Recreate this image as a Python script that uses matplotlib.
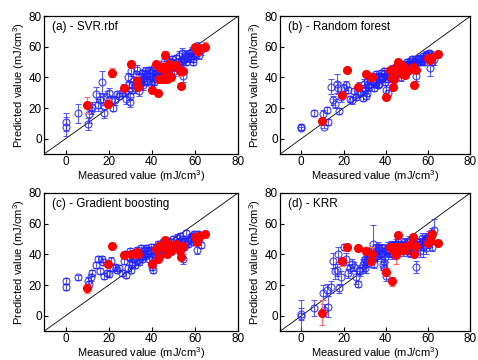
import matplotlib
matplotlib.use('Agg')
import matplotlib.pyplot as plt
import numpy as np

plt.rcParams['font.family'] = ['Liberation Sans', 'DejaVu Sans']
plt.rcParams['mathtext.fontset'] = 'custom'
plt.rcParams['mathtext.rm'] = 'Liberation Sans'

# measured values (shared by all four models)
x_train = [
    0, 0, 6, 10.5, 11, 12, 12.5, 14, 15, 16,
    17, 17.5, 18, 19, 20, 21, 22, 23, 24, 25,
    26, 27, 27.5, 28, 29, 29.5, 30, 30.5, 31, 31.5,
    32, 32.5, 33, 34, 34.5, 35, 35.5, 36, 36.5, 37,
    37.5, 38, 38.5, 39, 39.5, 40, 40.5, 41, 41.5, 42,
    42.5, 43, 43.5, 44, 44.5, 45, 45.5, 46, 46.5, 47,
    47.5, 48, 48.5, 49, 49.5, 50, 50.5, 51, 51.5, 52,
    52.5, 53, 53.5, 54, 54.5, 55, 55.5, 56, 57, 57.5,
    58, 58.5, 59, 59.5, 60, 60.5, 61, 61.5, 62, 63,
    35, 38, 41, 44, 47, 50, 53, 56, 59, 62,
    30, 33, 36, 39, 42, 45, 48, 51, 54, 57,
    31, 34, 37, 40, 43, 46, 49, 52, 55, 58,
]
x_test = [10, 19.5, 21.5, 27, 30.5, 33, 33.5, 40, 42, 43,
          43.5, 44, 45, 45.5, 46, 46.5, 47, 47.5, 48, 48.5,
          49, 51, 53, 53.5, 54.5, 60, 61, 61.5, 62, 64.5]

# (a) SVR.rbf
ya_train = [
    8, 11, 16.5, 9.5, 16, 19, 21, 29, 22, 25,
    37, 26, 16.5, 27, 30, 25, 20, 25, 29, 28,
    30, 33, 30, 26, 40, 36, 24, 44, 35, 38,
    33, 42, 45, 31, 36, 40, 43, 39, 37, 44,
    41, 38, 45, 43, 36, 40, 44, 46, 42, 39,
    44, 46, 41, 48, 43, 45, 50, 44, 47, 49,
    45, 51, 48, 46, 52, 49, 44, 53, 47, 50,
    54, 48, 51, 56, 41, 52, 55, 50, 53, 56,
    54, 57, 52, 58, 55, 59, 56, 60, 57, 58,
    38, 42, 37, 45, 42, 47, 45, 54, 50, 55,
    28, 36, 35, 41, 44, 47, 45, 48, 50, 54,
    32, 38, 42, 38, 42, 48, 50, 47, 52, 53,
]
ea_train = [
    6, 6, 6.5, 4, 6, 3, 3, 5, 4, 5,
    7.5, 4, 3, 4, 3, 3, 2, 3, 2, 2,
    2, 3, 2, 3, 3, 2, 3, 3, 2, 3,
    3, 2, 3, 3, 2, 3, 2, 3, 2, 3,
    2, 3, 2, 3, 3, 2, 3, 2, 3, 2,
    3, 2, 3, 2, 3, 2, 3, 2, 3, 2,
    2, 3, 2, 3, 2, 3, 3, 2, 3, 2,
    3, 4, 2, 3, 4, 2, 3, 2, 3, 2,
    2, 3, 2, 3, 2, 3, 2, 3, 2, 3,
    2, 3, 2, 3, 2, 3, 2, 3, 2, 3,
    3, 2, 3, 2, 3, 2, 3, 2, 3, 2,
    2, 3, 2, 3, 2, 3, 2, 3, 2, 3,
]
ya_test = [22, 23, 43, 33, 49, 38, 34, 32, 48.5, 30,
           39, 46, 39, 47, 55, 42, 39, 47, 49, 46,
           40, 48, 44, 34.5, 44.5, 60, 58, 57, 59, 60]
ea_test = [5, 3, 3, 2, 2, 3, 2, 2, 2, 2,
           2, 2, 2, 3, 2, 2, 2, 2, 2, 2,
           2, 2, 3, 2, 2, 2, 2, 2, 2, 3]

# (b) Random forest
yb_train = [
    7.5, 7, 17, 16, 8, 19, 11, 34, 25, 23,
    36, 33, 18, 27, 33, 35, 32, 26, 25, 31,
    27.5, 29, 34, 30, 26.5, 36, 32, 28, 38, 35,
    34, 39, 41, 37, 33, 40, 42, 38, 35, 41,
    43, 39, 40, 44, 37, 32, 42, 30, 44, 41,
    43, 45, 41, 46, 42, 44, 47, 43, 45, 48,
    44, 47, 49, 46, 48, 50, 45, 49, 51, 47,
    52, 49, 50, 51, 41, 50, 53, 52, 51, 54,
    53, 52, 55, 54, 53, 56, 46, 55, 54, 52,
    36, 40, 39, 43, 40, 46, 48, 50, 55, 50,
    33, 36, 40, 42, 40, 43, 46, 48, 49, 51,
    30, 38, 36, 41, 44, 46, 45, 48, 52, 50,
]
eb_train = [
    2, 1, 2, 3, 1, 2, 2, 5, 3, 3,
    6, 4, 2, 3, 3, 3, 2, 2, 2, 2,
    2, 2, 3, 2, 2, 3, 2, 2, 3, 2,
    2, 3, 2, 2, 2, 3, 2, 3, 2, 2,
    2, 2, 3, 2, 2, 3, 2, 2, 2, 2,
    2, 3, 2, 2, 2, 2, 3, 2, 2, 2,
    2, 2, 2, 3, 2, 2, 2, 2, 2, 2,
    2, 2, 2, 3, 3, 2, 2, 2, 2, 2,
    2, 2, 2, 2, 2, 2, 5, 2, 2, 4,
    2, 2, 2, 2, 2, 2, 2, 2, 2, 2,
    2, 2, 2, 3, 2, 2, 2, 2, 2, 2,
    2, 2, 2, 2, 2, 2, 2, 2, 2, 2,
]
yb_test = [11.5, 28.5, 45, 34, 42.5, 40.5, 40, 27.5, 45, 39.5,
           34, 39, 47, 44, 50, 46, 48, 42, 45, 47,
           41.5, 45, 47, 35, 45, 52.5, 51.5, 53, 53.5, 55.5]
eb_test = [2, 2, 1.5, 2, 1.5, 2, 2, 1.5, 1.5, 2,
           2, 2, 2, 2, 2, 2, 2, 2, 2, 2,
           2, 2, 2, 2, 2, 2, 2, 2, 2, 2]

# (c) Gradient boosting
yc_train = [
    22.5, 19, 25, 23, 21, 25, 28, 33, 37, 29,
    37, 35, 26, 28, 27.5, 36, 31, 32, 30, 31,
    28, 36, 40, 26.5, 31, 38.5, 42, 30, 35, 40,
    33, 38, 43, 35, 41, 44, 37, 40, 42, 39,
    44, 40, 37, 42, 45, 32, 30, 43, 40, 45,
    42, 47, 40, 45, 43, 48, 44, 42, 47, 45,
    49, 43, 46, 48, 44, 50, 47, 45, 51, 48,
    46, 52, 44, 50, 37, 48, 49, 54, 47, 51,
    50, 52, 48, 53, 51, 49, 43, 53, 52, 46,
    39, 41, 38, 46, 41, 44, 49, 47, 52, 50,
    38, 36, 39, 43, 39, 42, 45, 44, 48, 49,
    33, 41, 43, 38, 44, 46, 42, 47, 45, 50,
]
ec_train = [
    2, 2, 1.5, 2, 2, 2, 2, 2, 2, 2,
    2, 2, 2, 2, 2, 2, 2, 2, 2, 2,
    2, 2, 2, 2, 2, 2, 2, 2, 2, 2,
    2, 2, 2, 2, 2, 2, 2, 2, 2, 2,
    2, 2, 2, 2, 2, 2, 2, 2, 2, 2,
    2, 2, 2, 2, 2, 2, 2, 2, 2, 2,
    2, 2, 2, 2, 2, 2, 2, 2, 2, 2,
    2, 2, 2, 2, 3, 2, 2, 2, 2, 2,
    2, 2, 2, 2, 2, 2, 3, 2, 2, 2,
    2, 2, 2, 2, 2, 2, 2, 2, 2, 2,
    2, 2, 2, 2, 2, 2, 2, 2, 2, 2,
    2, 2, 2, 2, 2, 2, 2, 2, 2, 2,
]
yc_test = [18, 33.5, 45.5, 39.5, 40, 41.5, 40, 33.5, 43.5, 37,
           38, 46, 46, 44, 49.5, 43, 40, 47, 46, 45,
           42, 47, 42, 38.5, 45.5, 51.5, 48, 50.5, 52, 53]
ec_test = [3, 2, 2, 2, 2, 2, 2, 2, 2, 2,
           2, 2, 2, 2, 2, 2, 2, 2, 2, 2,
           2, 2, 2, 2, 2, 2, 2, 2, 2, 2]

# (d) KRR
yd_train = [
    0, 1, 5, 15, 4, 17, 6, 19, 36, 29,
    30, 40, 18, 25, 45, 37, 27.6, 31, 34, 32,
    25, 21, 30, 29, 33, 35, 37, 34, 40, 42,
    38, 36, 41, 47, 34, 44, 39, 42, 45, 43,
    40, 44, 33, 31, 38, 26, 43, 45, 41, 44,
    46, 43, 45, 42, 44, 47, 41, 48, 44, 43,
    46, 42, 48, 45, 43, 47, 44, 49, 41, 46,
    44, 50, 43, 47, 32, 46, 48, 42, 51, 45,
    46, 49, 44, 50, 47, 52, 48, 53, 45, 56,
    39, 41, 43, 46, 44, 42, 49, 47, 51, 54,
    31, 38, 40, 35, 42, 45, 44, 43, 46, 48,
    35, 40, 44, 42, 40, 46, 45, 47, 44, 49,
]
ed_train = [
    10, 4, 5, 5, 4, 4, 7, 4, 5, 5,
    4, 5, 3, 4, 2, 4, 3, 3, 3, 3,
    4, 2, 3, 3, 4, 3, 3, 6, 3, 3,
    3, 4, 3, 12, 3, 3, 3, 3, 3, 3,
    3, 3, 3, 3, 3, 3, 3, 3, 3, 3,
    3, 3, 3, 3, 3, 3, 3, 3, 3, 3,
    3, 3, 3, 3, 3, 3, 3, 3, 3, 3,
    3, 3, 3, 3, 4, 3, 3, 4, 3, 7,
    3, 3, 4, 3, 3, 3, 3, 3, 3, 7,
    3, 3, 3, 3, 3, 3, 3, 3, 3, 3,
    3, 3, 3, 3, 3, 3, 3, 3, 3, 3,
    3, 3, 3, 3, 3, 3, 3, 3, 3, 3,
]
yd_test = [2, 35.5, 44.5, 44, 42.5, 36, 40.5, 28.5, 44.5, 22.5,
           43, 45, 39.5, 44.5, 52.5, 45, 44, 43, 45, 44,
           43, 46, 51.5, 40, 45.5, 47.5, 49.5, 52.5, 53, 47.5]
ed_test = [8, 3, 2, 2, 2, 3, 4, 2.5, 2.5, 3,
           2, 2, 6, 2, 2, 2, 2, 2, 2, 2,
           2, 2, 2, 2, 2, 2, 2, 2, 2, 2]

panels = [
    ("(a) - SVR.rbf", ya_train, ea_train, ya_test, ea_test),
    ("(b) - Random forest", yb_train, eb_train, yb_test, eb_test),
    ("(c) - Gradient boosting", yc_train, ec_train, yc_test, ec_test),
    ("(d) - KRR", yd_train, ed_train, yd_test, ed_test),
]

fig = plt.figure(figsize=(4.78, 3.6), dpi=100)
boxes = [
    [0.092, 0.572, 0.406, 0.383],
    [0.586, 0.572, 0.398, 0.383],
    [0.092, 0.080, 0.406, 0.384],
    [0.586, 0.080, 0.398, 0.384],
]

for box, (title, y_tr, e_tr, y_te, e_te) in zip(boxes, panels):
    ax = fig.add_axes(box)
    ax.plot([-10, 80], [-10, 80], color='black', lw=0.6, zorder=1)
    ax.errorbar(x_train, y_tr, yerr=e_tr, fmt='o', ms=5, mfc='none',
                mec='#2020ff', mew=0.8, ecolor='#4040ff', elinewidth=0.8,
                capsize=2.5, capthick=0.8, alpha=0.85, zorder=2)
    ax.errorbar(x_test, y_te, yerr=e_te, fmt='o', ms=5.5, mfc='#ff0000',
                mec='#ff0000', ecolor='#ff7070', elinewidth=0.9,
                capsize=2.5, capthick=0.9, zorder=3)
    ax.set_xlim(-10, 80)
    ax.set_ylim(-10, 80)
    ax.set_xticks([0, 20, 40, 60, 80])
    ax.set_yticks([0, 20, 40, 60, 80])
    ax.tick_params(direction='in', length=3, width=0.8, labelsize=8.5, pad=1.5)
    for sp in ax.spines.values():
        sp.set_linewidth(0.9)
    ax.text(0.04, 0.92, title, transform=ax.transAxes, fontsize=8.5,
            va='center', ha='left')
    ax.set_xlabel('Measured value (mJ/cm$^3$)', fontsize=8, labelpad=0)
    ax.set_ylabel('Predicted value (mJ/cm$^3$)', fontsize=8, labelpad=1)

fig.savefig('out.png', dpi=100)
